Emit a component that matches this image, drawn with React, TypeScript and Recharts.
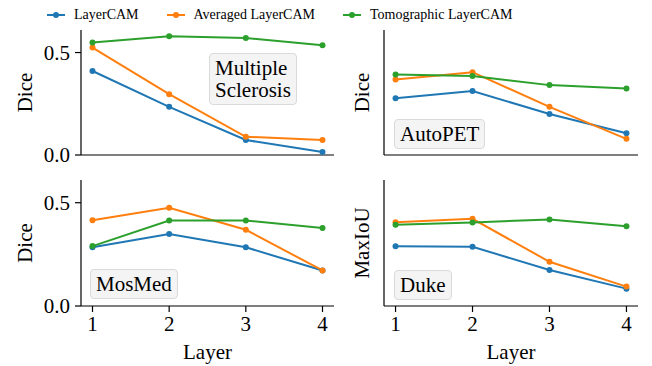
import { LineChart, Line, XAxis, YAxis, Label } from "recharts";

const FONT = '"Liberation Serif", "Times New Roman", serif';

const layers = [1, 2, 3, 4];
const seriesNames = ["LayerCAM", "Averaged LayerCAM", "Tomographic LayerCAM"];
const seriesColors = ["#1f77b4", "#ff7f0e", "#2ca02c"];
const yTicks = [0, 0.5];

// Multiple Sclerosis
const msLayerCam = [0.41, 0.235, 0.073, 0.015];
const msAveraged = [0.524, 0.297, 0.089, 0.073];
const msTomographic = [0.549, 0.579, 0.571, 0.535];

// AutoPET
const autoPetLayerCam = [0.277, 0.312, 0.2, 0.106];
const autoPetAveraged = [0.368, 0.404, 0.235, 0.079];
const autoPetTomographic = [0.393, 0.385, 0.341, 0.325];

// MosMed
const mosMedLayerCam = [0.284, 0.349, 0.284, 0.172];
const mosMedAveraged = [0.415, 0.476, 0.369, 0.172];
const mosMedTomographic = [0.29, 0.414, 0.414, 0.378];

// Duke
const dukeLayerCam = [0.289, 0.287, 0.174, 0.084];
const dukeAveraged = [0.406, 0.422, 0.214, 0.094];
const dukeTomographic = [0.393, 0.404, 0.419, 0.386];

const keys = ["layerCam", "averaged", "tomographic"];

function toRows(series: number[][]) {
  return layers.map((layer, i) => ({
    layer,
    layerCam: series[0][i],
    averaged: series[1][i],
    tomographic: series[2][i],
  }));
}

const YTick = ({ x, y, payload }: any) => (
  <text x={x} y={y} textAnchor="end" dominantBaseline="central" fontSize={21} fontFamily={FONT} fill="#000">
    {Number(payload.value).toFixed(1)}
  </text>
);

const XTick = ({ x, y, payload }: any) => (
  <text x={x} y={y} textAnchor="middle" dominantBaseline="hanging" fontSize={21} fontFamily={FONT} fill="#000">
    {payload.value}
  </text>
);

type PanelProps = {
  left: number;
  top: number;
  width: number;
  height: number;
  marginTop: number;
  marginRight: number;
  yAxisWidth: number;
  xAxisHeight: number;
  showXTicks: boolean;
  showYTicks: boolean;
  yLabel: string;
  yLabelGap: number;
  series: number[][];
  title: string[];
  boxLeft: number;
  boxTop: number;
};

function Panel(p: PanelProps) {
  const data = toRows(p.series);
  return (
    <div style={{ position: "absolute", left: p.left, top: p.top, width: p.width, height: p.height }}>
      <LineChart
        width={p.width}
        height={p.height}
        data={data}
        margin={{ top: p.marginTop, right: p.marginRight, left: 0, bottom: 0 }}
      >
        <XAxis
          dataKey="layer"
          type="number"
          domain={[0.85, 4.15]}
          ticks={layers}
          height={p.xAxisHeight}
          stroke="#000"
          axisLine={{ stroke: "#000", strokeWidth: 1.2 }}
          tickLine={{ stroke: "#000", strokeWidth: 1.2 }}
          tickSize={6}
          tickMargin={4}
          tick={p.showXTicks ? <XTick /> : false}
          allowDataOverflow
        >
          {p.showXTicks && (
            <Label
              content={({ viewBox }: any) => (
                <text
                  x={viewBox.x + viewBox.width / 2}
                  y={viewBox.y + 46}
                  textAnchor="middle"
                  dominantBaseline="central"
                  fontSize={21}
                  fontFamily={FONT}
                  fill="#000"
                >
                  Layer
                </text>
              )}
            />
          )}
        </XAxis>
        <YAxis
          type="number"
          domain={[0, 0.61]}
          ticks={yTicks}
          width={p.yAxisWidth}
          stroke="#000"
          axisLine={{ stroke: "#000", strokeWidth: 1.2 }}
          tickLine={{ stroke: "#000", strokeWidth: 1.2 }}
          tickSize={6}
          tickMargin={5}
          tick={p.showYTicks ? <YTick /> : false}
          allowDataOverflow
        >
          <Label
            content={({ viewBox }: any) => {
              const cx = viewBox.x + viewBox.width - p.yLabelGap;
              const cy = viewBox.y + viewBox.height / 2;
              return (
                <text
                  x={cx}
                  y={cy}
                  transform={`rotate(-90 ${cx} ${cy})`}
                  textAnchor="middle"
                  dominantBaseline="central"
                  fontSize={21}
                  fontFamily={FONT}
                  fill="#000"
                >
                  {p.yLabel}
                </text>
              );
            }}
          />
        </YAxis>
        {keys.map((k, i) => (
          <Line
            key={k}
            type="linear"
            dataKey={k}
            stroke={seriesColors[i]}
            strokeWidth={2}
            dot={{ r: 3, fill: seriesColors[i], stroke: seriesColors[i], strokeWidth: 0 }}
            activeDot={false}
            isAnimationActive={false}
          />
        ))}
      </LineChart>
      <div
        style={{
          position: "absolute",
          left: p.boxLeft - p.left,
          top: p.boxTop - p.top,
          background: "rgba(243,243,243,0.92)",
          border: "1px solid #dadada",
          borderRadius: 4,
          padding: "3px 5px 3px 5px",
          fontFamily: FONT,
          fontSize: 21,
          lineHeight: "22px",
          color: "#000",
          whiteSpace: "nowrap",
        }}
      >
        {p.title.map((t) => (
          <div key={t}>{t}</div>
        ))}
      </div>
    </div>
  );
}

function LegendBar() {
  return (
    <div
      style={{
        position: "absolute",
        left: 46,
        top: 5,
        display: "flex",
        alignItems: "center",
        fontFamily: FONT,
        fontSize: 14,
        color: "#000",
        height: 20,
      }}
    >
      {seriesNames.map((name, i) => (
        <div key={name} style={{ display: "flex", alignItems: "center", marginRight: 27 }}>
          <svg width={20} height={10} style={{ marginRight: 8 }}>
            <line x1={1} y1={5} x2={19} y2={5} stroke={seriesColors[i]} strokeWidth={2} />
            <circle cx={10} cy={5} r={3} fill={seriesColors[i]} />
          </svg>
          <span>{name}</span>
        </div>
      ))}
    </div>
  );
}

export default function App() {
  return (
    <div style={{ position: "absolute", left: 0, top: 0, width: 652, height: 366, background: "#fff", overflow: "hidden" }}>
      <LegendBar />
      <Panel
        left={0}
        top={0}
        width={340}
        height={180}
        marginTop={30}
        marginRight={6}
        yAxisWidth={81}
        xAxisHeight={25}
        showXTicks={false}
        showYTicks={true}
        yLabel="Dice"
        yLabelGap={56.5}
        series={[msLayerCam, msAveraged, msTomographic]}
        title={["Multiple", "Sclerosis"]}
        boxLeft={209}
        boxTop={53}
      />
      <Panel
        left={340}
        top={0}
        width={312}
        height={180}
        marginTop={30}
        marginRight={14}
        yAxisWidth={44}
        xAxisHeight={25}
        showXTicks={false}
        showYTicks={false}
        yLabel="Dice"
        yLabelGap={22.5}
        series={[autoPetLayerCam, autoPetAveraged, autoPetTomographic]}
        title={["AutoPET"]}
        boxLeft={394}
        boxTop={119}
      />
      <Panel
        left={0}
        top={180}
        width={340}
        height={186}
        marginTop={0}
        marginRight={6}
        yAxisWidth={81}
        xAxisHeight={60}
        showXTicks={true}
        showYTicks={true}
        yLabel="Dice"
        yLabelGap={56.5}
        series={[mosMedLayerCam, mosMedAveraged, mosMedTomographic]}
        title={["MosMed"]}
        boxLeft={90}
        boxTop={269}
      />
      <Panel
        left={340}
        top={180}
        width={312}
        height={186}
        marginTop={0}
        marginRight={14}
        yAxisWidth={44}
        xAxisHeight={60}
        showXTicks={true}
        showYTicks={false}
        yLabel="MaxIoU"
        yLabelGap={22.5}
        series={[dukeLayerCam, dukeAveraged, dukeTomographic]}
        title={["Duke"]}
        boxLeft={394}
        boxTop={270}
      />
    </div>
  );
}
